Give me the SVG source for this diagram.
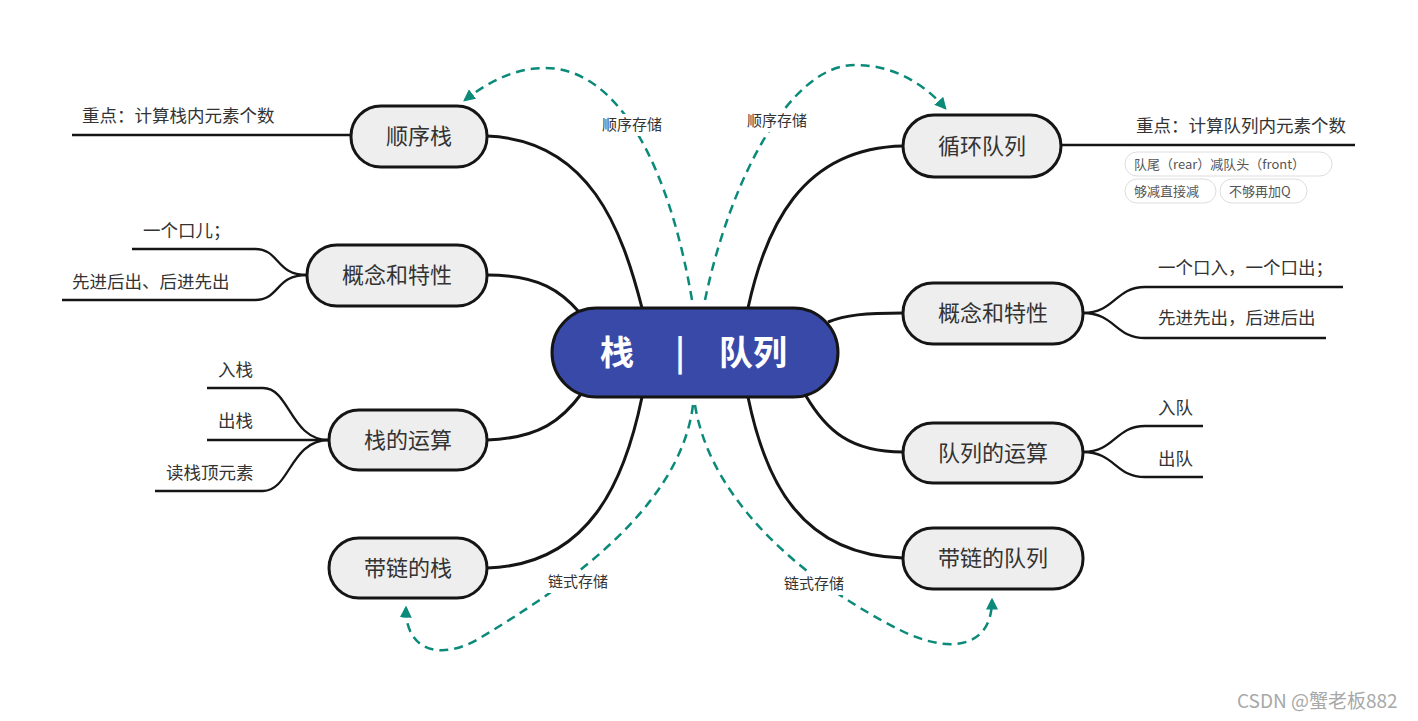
<svg xmlns="http://www.w3.org/2000/svg" width="1418" height="721" viewBox="0 0 1418 721">
<defs>
<style>
.node{fill:#EEEEEE;stroke:#151515;stroke-width:3}
.nt{font-family:"Noto Sans CJK SC","Microsoft YaHei",sans-serif;font-size:22px;fill:#333;text-anchor:middle}
.lt{font-family:"Noto Sans CJK SC","Microsoft YaHei",sans-serif;font-size:17.5px;fill:#333}
.br{fill:none;stroke:#151515;stroke-width:3}
.lf{fill:none;stroke:#151515;stroke-width:2.3}
.dl{fill:none;stroke:#0B8A7A;stroke-width:2.5;stroke-dasharray:9 6}
.dt{font-family:"Noto Sans CJK SC","Microsoft YaHei",sans-serif;font-size:15px;fill:#333;text-anchor:middle}
.tag{fill:#fff;stroke:#ddd;stroke-width:1}
.tt{font-family:"Noto Sans CJK SC","Microsoft YaHei",sans-serif;font-size:13px;fill:#555}
.ct{font-family:"Noto Sans CJK SC","Microsoft YaHei",sans-serif;font-size:34px;font-weight:bold;fill:#fff;text-anchor:middle}
</style>
<marker id="ah" viewBox="0 0 10 10" refX="8" refY="5" markerWidth="12" markerHeight="12" markerUnits="userSpaceOnUse" orient="auto">
<path d="M0,0 L10,5 L0,10 Z" fill="#0B8A7A"/>
</marker>
</defs>
<rect width="1418" height="721" fill="#fff"/>

<g id="connectors">
<path class="br" d="M487 136 C590 140 622 230 642 308"/>
<path class="br" d="M487 275 C540 275 562 292 580 313"/>
<path class="br" d="M487 440 C540 438 562 420 582 393"/>
<path class="br" d="M487 568 C590 565 625 480 642 397"/>
<path class="br" d="M903 146 C800 148 765 230 748 308"/>
<path class="br" d="M903 313 C865 313 845 315 828 322"/>
<path class="br" d="M903 452 C850 452 826 430 806 396"/>
<path class="br" d="M903 558 C800 555 765 480 748 397"/>

<path class="lf" d="M72 135 L351 135"/>
<path class="lf" d="M307 275 C275 275 280 249 255 249 L132 249"/>
<path class="lf" d="M307 275 C275 275 280 300 255 300 L62 300"/>
<path class="lf" d="M329 440 C290 440 290 388 263 388 L207 388"/>
<path class="lf" d="M329 440 L207 440"/>
<path class="lf" d="M329 440 C290 440 290 491 263 491 L155 491"/>

<path class="lf" d="M1061 145 L1355 145"/>
<path class="lf" d="M1083 313 C1115 313 1115 287 1145 287 L1343 287"/>
<path class="lf" d="M1083 313 C1115 313 1115 338 1145 338 L1326 338"/>
<path class="lf" d="M1083 452 C1115 452 1115 426 1145 426 L1203 426"/>
<path class="lf" d="M1083 452 C1115 452 1115 477 1145 477 L1203 477"/>

<path class="dl" d="M692 300 C670 170 620 68 545 68 C515 68 488 82 465 100" marker-end="url(#ah)"/>
<path class="dl" d="M705 300 C730 180 790 65 855 65 C895 65 925 85 945 108" marker-end="url(#ah)"/>
<path class="dl" d="M693 405 C680 510 560 590 480 638 C440 662 405 650 406 608" marker-end="url(#ah)"/>
<path class="dl" d="M695 405 C712 510 820 590 900 630 C950 655 992 648 992 600" marker-end="url(#ah)"/>

<rect x="596" y="114" width="72" height="22" fill="#fff"/>
<text class="dt" x="632" y="130">顺序存储</text>
<rect x="741" y="110" width="72" height="22" fill="#fff"/>
<text class="dt" x="777" y="126">顺序存储</text>
<rect x="542" y="571" width="72" height="22" fill="#fff"/>
<text class="dt" x="578" y="587">链式存储</text>
<rect x="778" y="573" width="72" height="22" fill="#fff"/>
<text class="dt" x="814" y="589">链式存储</text>
</g>

<g id="center">
<rect x="552" y="308" width="286" height="89" rx="44.5" fill="#3949A8" stroke="#151515" stroke-width="3"/>
<text class="ct" x="617" y="365">栈</text>
<text class="ct" x="680" y="365">|</text>
<text class="ct" x="753" y="365">队列</text>
</g>

<g id="n-shunxuzhan">
<rect class="node" x="351" y="106" width="136" height="61" rx="30"/>
<text class="nt" x="419" y="144">顺序栈</text>
<text class="lt" x="82" y="122">重点：计算栈内元素个数</text>
</g>

<g id="n-gainian-left">
<rect class="node" x="307" y="245" width="180" height="61" rx="30"/>
<text class="nt" x="397" y="283">概念和特性</text>
<text class="lt" x="143" y="237">一个口儿；</text>
<text class="lt" x="72" y="288">先进后出、后进先出</text>
</g>

<g id="n-zhanyunsuan">
<rect class="node" x="329" y="410" width="158" height="60" rx="30"/>
<text class="nt" x="408" y="448">栈的运算</text>
<text class="lt" x="218" y="376">入栈</text>
<text class="lt" x="218" y="427">出栈</text>
<text class="lt" x="166" y="479">读栈顶元素</text>
</g>

<g id="n-dailianzhan">
<rect class="node" x="329" y="538" width="158" height="60" rx="30"/>
<text class="nt" x="408" y="576">带链的栈</text>
</g>

<g id="n-xunhuan">
<rect class="node" x="903" y="115" width="158" height="62" rx="31"/>
<text class="nt" x="982" y="154">循环队列</text>
<text class="lt" x="1136" y="132">重点：计算队列内元素个数</text>
<rect class="tag" x="1125" y="152" width="207" height="24" rx="12"/>
<text class="tt" x="1134" y="169">队尾（rear）减队头（front）</text>
<rect class="tag" x="1125" y="179" width="91" height="24" rx="12"/>
<text class="tt" x="1134" y="196">够减直接减</text>
<rect class="tag" x="1220" y="179" width="87" height="24" rx="12"/>
<text class="tt" x="1229" y="196">不够再加Q</text>
</g>

<g id="n-gainian-right">
<rect class="node" x="903" y="283" width="180" height="61" rx="30"/>
<text class="nt" x="993" y="321">概念和特性</text>
<text class="lt" x="1158" y="274">一个口入，一个口出；</text>
<text class="lt" x="1158" y="324">先进先出，后进后出</text>
</g>

<g id="n-duilieyunsuan">
<rect class="node" x="903" y="423" width="180" height="60" rx="30"/>
<text class="nt" x="993" y="461">队列的运算</text>
<text class="lt" x="1158" y="414">入队</text>
<text class="lt" x="1158" y="465">出队</text>
</g>

<g id="n-dailianduilie">
<rect class="node" x="903" y="528" width="180" height="61" rx="30"/>
<text class="nt" x="993" y="566">带链的队列</text>
</g>

<text x="1237" y="708" font-family="'Noto Sans CJK SC',sans-serif" font-size="19" fill="#a8a8a8">CSDN @蟹老板882</text>
</svg>
